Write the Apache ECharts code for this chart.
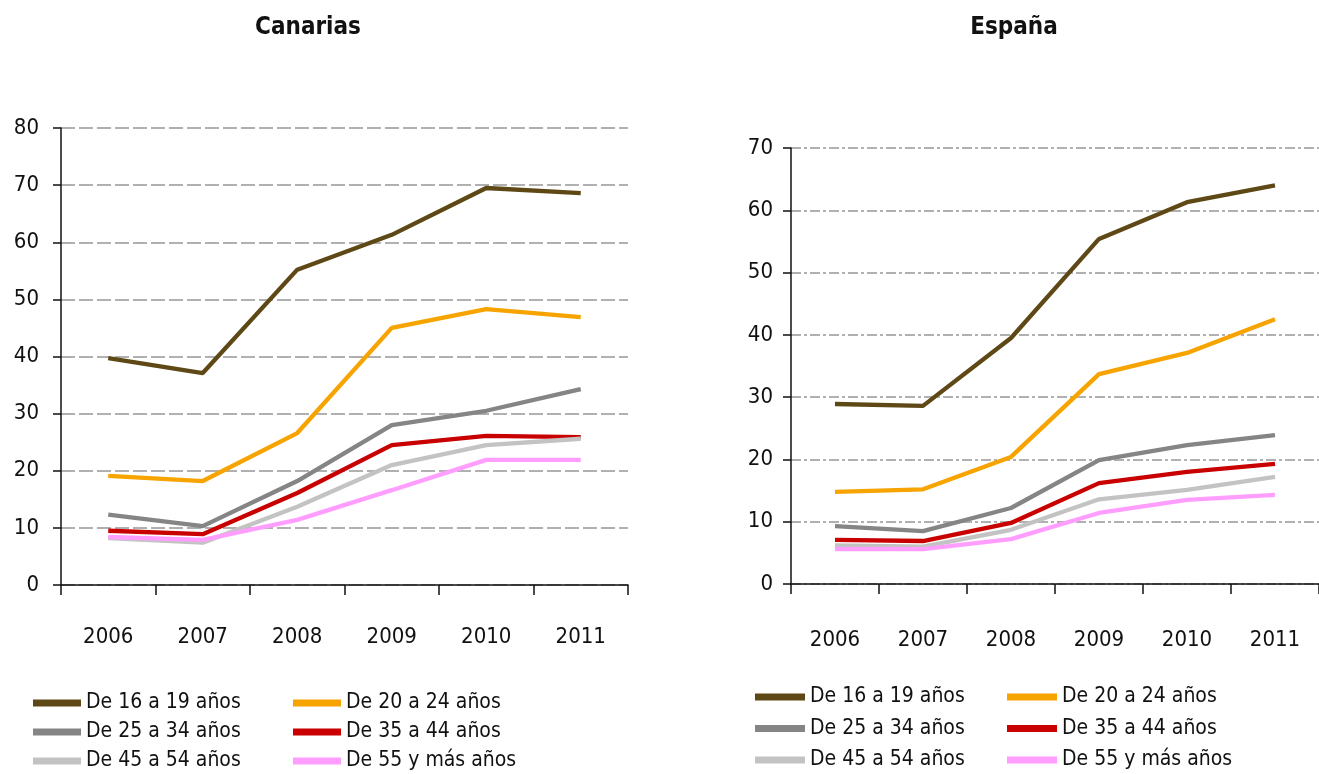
<!DOCTYPE html>
<html>
<head>
<meta charset="utf-8">
<script src="https://cdn.jsdelivr.net/npm/echarts@6/dist/echarts.min.js"></script>
<style>
  html, body { margin: 0; padding: 0; background: #fff; }
  #chart { width: 1319px; height: 774px; }
</style>
</head>
<body>
<div id="chart"></div>
<script>
// años
var years = ['2006', '2007', '2008', '2009', '2010', '2011'];

// grupos de edad
var groups = ['De 16 a 19 años', 'De 20 a 24 años', 'De 25 a 34 años',
              'De 35 a 44 años', 'De 45 a 54 años', 'De 55 y más años'];

// Canarias
var can16 = [39.7, 37.1, 55.2, 61.3, 69.5, 68.6];
var can20 = [19.1, 18.2, 26.6, 45.0, 48.3, 46.9];
var can25 = [12.3, 10.3, 18.2, 28.0, 30.5, 34.3];
var can35 = [9.5, 8.9, 16.1, 24.5, 26.1, 25.9];
var can45 = [8.2, 7.4, 13.7, 21.0, 24.5, 25.6];
var can55 = [8.4, 7.9, 11.4, 16.6, 21.9, 21.9];

// España
var esp16 = [28.9, 28.6, 39.5, 55.4, 61.3, 64.0];
var esp20 = [14.8, 15.2, 20.4, 33.7, 37.1, 42.5];
var esp25 = [9.3, 8.5, 12.2, 19.9, 22.3, 23.9];
var esp35 = [7.1, 6.9, 9.8, 16.2, 18.0, 19.3];
var esp45 = [6.2, 6.0, 8.7, 13.6, 15.1, 17.2];
var esp55 = [5.6, 5.6, 7.2, 11.4, 13.5, 14.3];

var colors = ['#5e4816', '#f7a300', '#858585', '#c90000', '#c3c3c3', '#ff9eff'];

var FONT = "'DejaVu Sans Condensed', 'Liberation Sans Narrow', 'Liberation Sans', sans-serif";

var myChart = echarts.init(document.getElementById('chart'));

function makeSeries(list, idx) {
    return list.map(function (d, i) {
        return {
            name: groups[i],
            type: 'line',
            xAxisIndex: idx,
            yAxisIndex: idx,
            data: d,
            symbol: 'none',
            lineStyle: { width: 4.3, color: colors[i] },
            itemStyle: { color: colors[i] },
            emphasis: { disabled: true }
        };
    });
}

function xAxisOf(idx, margin) {
    return {
        type: 'category',
        gridIndex: idx,
        data: years,
        boundaryGap: true,
        axisLine: { lineStyle: { color: '#111', width: 1.5 } },
        axisTick: { show: true, length: 10, lineStyle: { color: '#111', width: 1.5 } },
        axisLabel: { margin: margin, color: '#111', fontSize: 22, fontFamily: FONT }
    };
}

function yAxisOf(idx, max, dash, margin) {
    return {
        type: 'value',
        gridIndex: idx,
        min: 0,
        max: max,
        interval: 10,
        axisLine: { show: true, lineStyle: { color: '#111', width: 1.5 } },
        axisTick: { show: true, length: 8, lineStyle: { color: '#111', width: 1.5 } },
        axisLabel: { margin: margin, color: '#111', fontSize: 22, fontFamily: FONT },
        splitLine: { lineStyle: { color: '#969696', width: 1.5, type: dash } }
    };
}

function legendOf(names, left, top, gap, w) {
    return {
        data: names,
        orient: 'vertical',
        left: left,
        top: top,
        icon: 'rect',
        itemWidth: w,
        itemHeight: 7,
        itemGap: gap,
        padding: 0,
        textStyle: { color: '#111', fontSize: 21, lineHeight: 22, fontFamily: FONT }
    };
}

var option = {
    animation: false,
    graphic: [
        { type: 'text', x: 308, y: 28,
          style: { text: 'Canarias', font: "bold 24px " + FONT, fill: '#111',
                   textAlign: 'center', textVerticalAlign: 'middle' } },
        { type: 'text', x: 1014, y: 28,
          style: { text: 'España', font: "bold 24px " + FONT, fill: '#111',
                   textAlign: 'center', textVerticalAlign: 'middle' } }
    ],
    legend: [
        legendOf([groups[0], groups[2], groups[4]], 33, 692, 7, 48),
        legendOf([groups[1], groups[3], groups[5]], 293, 692, 7, 48),
        legendOf([groups[0], groups[2], groups[4]], 755, 686, 9.5, 50),
        legendOf([groups[1], groups[3], groups[5]], 1007, 686, 9.5, 50)
    ],
    grid: [
        { left: 61, top: 128, width: 567, height: 457 },
        { left: 791, top: 148, width: 536, height: 436 }
    ],
    xAxis: [xAxisOf(0, 41), xAxisOf(1, 45)],
    yAxis: [yAxisOf(0, 80, [14, 4], 22), yAxisOf(1, 70, [10, 3, 3, 3], 18)],
    series: makeSeries([can16, can20, can25, can35, can45, can55], 0)
        .concat(makeSeries([esp16, esp20, esp25, esp35, esp45, esp55], 1))
};

myChart.setOption(option);
window.addEventListener("resize", function () {
    myChart.resize();
});
</script>
</body>
</html>
